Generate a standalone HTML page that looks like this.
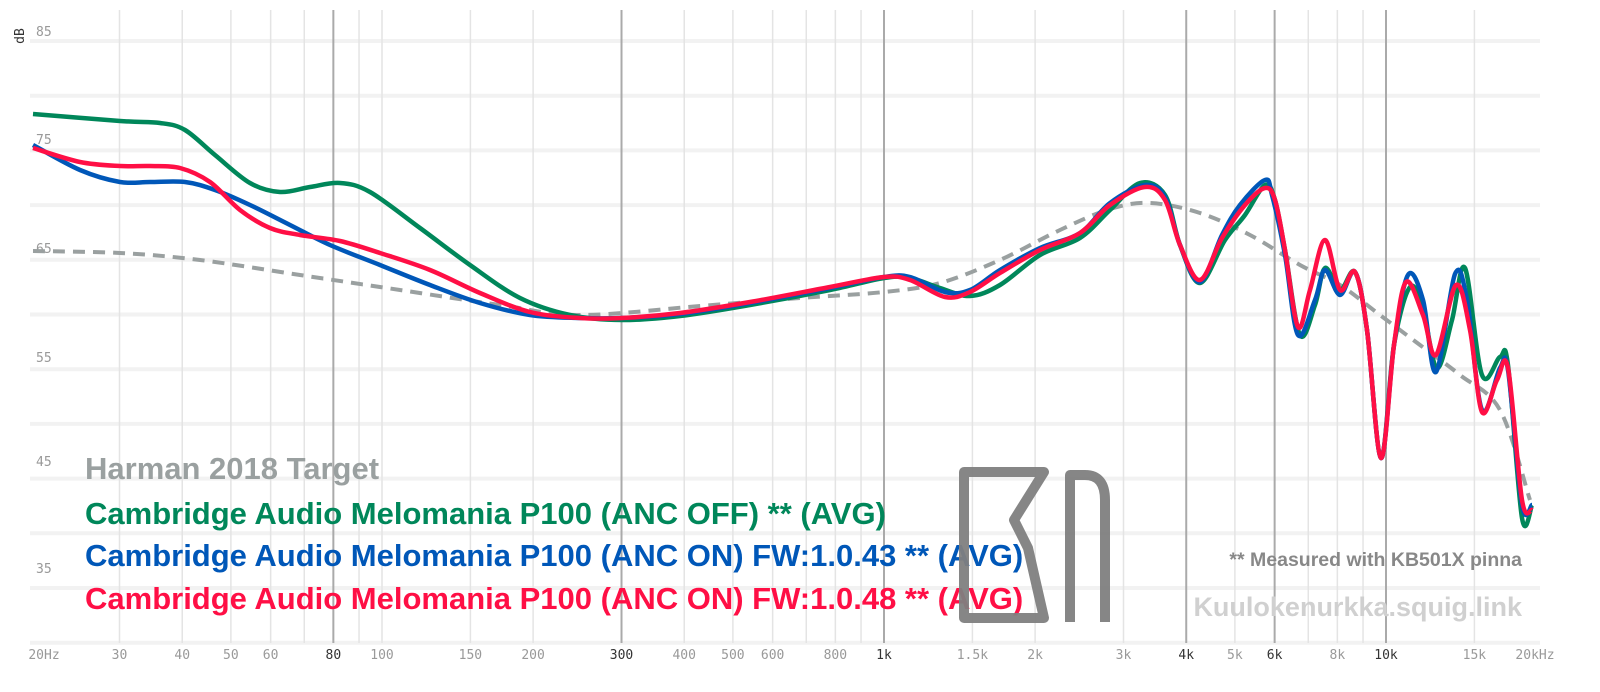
<!DOCTYPE html>
<html><head><meta charset="utf-8"><style>
body{margin:0;background:#fff;width:1600px;height:692px;overflow:hidden}
svg{display:block}
.t{font-family:"DejaVu Sans Mono","Liberation Mono",monospace;font-size:13px;fill:#999}
.d{fill:#333}
.lg{font-family:"Liberation Sans",sans-serif;font-weight:bold;font-size:31px}
</style></head><body>
<svg id="s" width="1600" height="692" xmlns="http://www.w3.org/2000/svg">
<g id="grid"></g>
<text class="t" x="24" y="36" transform="rotate(-90 24 36)" style="fill:#333" text-anchor="middle">dB</text>
<g class="t">
<text x="36" y="36">85</text><text x="36" y="144">75</text><text x="36" y="253">65</text>
<text x="36" y="362">55</text><text x="36" y="466">45</text><text x="36" y="573">35</text>
</g>
<g id="xl" class="t" text-anchor="middle"></g>
<g id="curves"></g>
<text class="lg" x="85" y="479" fill="#9aa0a0">Harman 2018 Target</text>
<text class="lg" x="85" y="524" fill="#00875a">Cambridge Audio Melomania P100 (ANC OFF) ** (AVG)</text>
<text class="lg" x="85" y="566" fill="#0057b8">Cambridge Audio Melomania P100 (ANC ON) FW:1.0.43 ** (AVG)</text>
<text class="lg" x="85" y="609" fill="#ff0f45">Cambridge Audio Melomania P100 (ANC ON) FW:1.0.48 ** (AVG)</text>
<g fill="none" stroke="#808080" stroke-width="10" stroke-linejoin="round" opacity="0.95">
<path d="M964,472 V618 H1044 L1028,548 L1014,520 L1044,472 Z"/>
<path d="M1070,622 V475 H1085 Q1105,475 1105,500 V622"/>
</g>
<text x="1522" y="566" text-anchor="end" font-family="Liberation Sans,sans-serif" font-weight="bold" font-size="19.5" fill="#888">** Measured with KB501X pinna</text>
<text x="1522" y="616" text-anchor="end" font-family="Liberation Sans,sans-serif" font-weight="bold" font-size="27" fill="#d0d0d0">Kuulokenurkka.squig.link</text>
</svg>
<script>
const NS="http://www.w3.org/2000/svg";
function X(f){return 884+502*Math.log10(f/1000);}
function el(p,tag,a){const e=document.createElementNS(NS,tag);for(const k in a)e.setAttribute(k,a[k]);p.appendChild(e);return e;}
const g=document.getElementById('grid');
for(let db=30;db<=85;db+=5){const y=41+(85-db)*10.94;el(g,'line',{x1:30,x2:1540,y1:y,y2:y,stroke:'#f2f2f2','stroke-width':4});}
const freqs=[20,30,40,50,60,70,80,90,100,150,200,300,400,500,600,700,800,900,1000,1500,2000,3000,4000,5000,6000,7000,8000,9000,10000,15000,20000];
const dark=[80,300,1000,4000,6000,10000];
const labels={20:'20Hz',30:'30',40:'40',50:'50',60:'60',80:'80',100:'100',150:'150',200:'200',300:'300',400:'400',500:'500',600:'600',800:'800',1000:'1k',1500:'1.5k',2000:'2k',3000:'3k',4000:'4k',5000:'5k',6000:'6k',8000:'8k',10000:'10k',15000:'15k',20000:'20kHz'};
const xl=document.getElementById('xl');
freqs.forEach(f=>{const x=X(f);const dk=dark.includes(f);
 if(f>20&&f<20000) el(g,'line',{x1:x,x2:x,y1:10,y2:643,stroke:dk?'#aaa':'#e4e4e4','stroke-width':dk?2:1.5});
 if(labels[f]){const t=el(xl,'text',{x:f==20?44:(f==20000?1535:x),y:659});t.textContent=labels[f];if(dk)t.setAttribute('class','d');}
});
function path(pts){let d='M'+pts[0][0]+','+pts[0][1];
 for(let i=0;i<pts.length-1;i++){const p0=pts[Math.max(0,i-1)],p1=pts[i],p2=pts[i+1],p3=pts[Math.min(pts.length-1,i+2)];
 const c1=[p1[0]+(p2[0]-p0[0])/6,p1[1]+(p2[1]-p0[1])/6],c2=[p2[0]-(p3[0]-p1[0])/6,p2[1]-(p3[1]-p1[1])/6];
 d+=' C'+c1+' '+c2+' '+p2;}return d;}
const target=[[33,251],[120,253],[200,260],[300,275],[400,290],[500,305],[580,315],[700,306],[800,298],[884,292],[940,283],[1000,260],[1060,230],[1110,209],[1150,203],[1200,213],[1250,235],[1300,265],[1340,285],[1380,315],[1420,345],[1460,375],[1500,410],[1530,500]];
const green=[[33,114],[120,121],[160,123],[185,130],[215,155],[250,183],[280,192],[310,187],[340,183],[370,192],[420,228],[470,265],[520,298],[570,315],[622,320],[680,316],[750,305],[830,290],[884,278],[910,278],[940,288],[970,296],[1000,285],[1040,255],[1080,238],[1110,210],[1140,183],[1165,195],[1180,245],[1200,283],[1225,240],[1245,215],[1265,185],[1275,200],[1285,250],[1300,335],[1315,305],[1325,268],[1340,290],[1355,272],[1367,330],[1381,458],[1394,345],[1410,287],[1423,310],[1437,368],[1452,320],[1465,268],[1482,375],[1500,357],[1508,365],[1522,518],[1532,505]];
const blue=[[33,145],[80,170],[120,182],[150,182],[185,182],[215,190],[250,205],[290,225],[330,245],[380,265],[430,285],[480,303],[530,315],[580,318],[622,318],[680,314],[750,303],[830,288],[884,277],[910,277],[945,292],[970,290],[1000,270],[1040,248],[1080,233],[1110,203],[1145,185],[1165,197],[1180,245],[1200,282],[1222,235],[1240,205],[1265,180],[1272,195],[1285,255],[1298,335],[1315,300],[1325,270],[1340,295],[1355,272],[1367,330],[1381,458],[1394,345],[1408,275],[1423,300],[1436,372],[1455,274],[1467,300],[1482,410],[1500,368],[1508,370],[1522,505],[1532,505]];
const red=[[33,148],[80,162],[120,166],[150,166],[180,168],[210,182],[240,210],[270,228],[300,235],[340,241],[380,253],[430,270],[480,293],[530,312],[580,318],[622,318],[680,313],[750,302],[830,287],[884,277],[910,280],[945,297],[970,292],[1000,273],[1040,250],[1080,233],[1110,205],[1145,187],[1165,200],[1180,245],[1200,280],[1222,238],[1245,205],[1265,188],[1275,200],[1285,250],[1298,327],[1310,290],[1325,240],[1340,290],[1355,272],[1367,330],[1381,458],[1394,345],[1406,282],[1423,315],[1436,355],[1456,285],[1470,330],[1482,412],[1497,380],[1508,368],[1522,500],[1532,510]];
const c=document.getElementById('curves');
el(c,'path',{d:path(target),fill:'none',stroke:'#9aa0a0','stroke-width':4,'stroke-dasharray':'12,8'});
el(c,'path',{d:path(green),fill:'none',stroke:'#00875a','stroke-width':4.5});
el(c,'path',{d:path(blue),fill:'none',stroke:'#0057b8','stroke-width':4.5});
el(c,'path',{d:path(red),fill:'none',stroke:'#ff0f45','stroke-width':4.5});
</script>
</body></html>
